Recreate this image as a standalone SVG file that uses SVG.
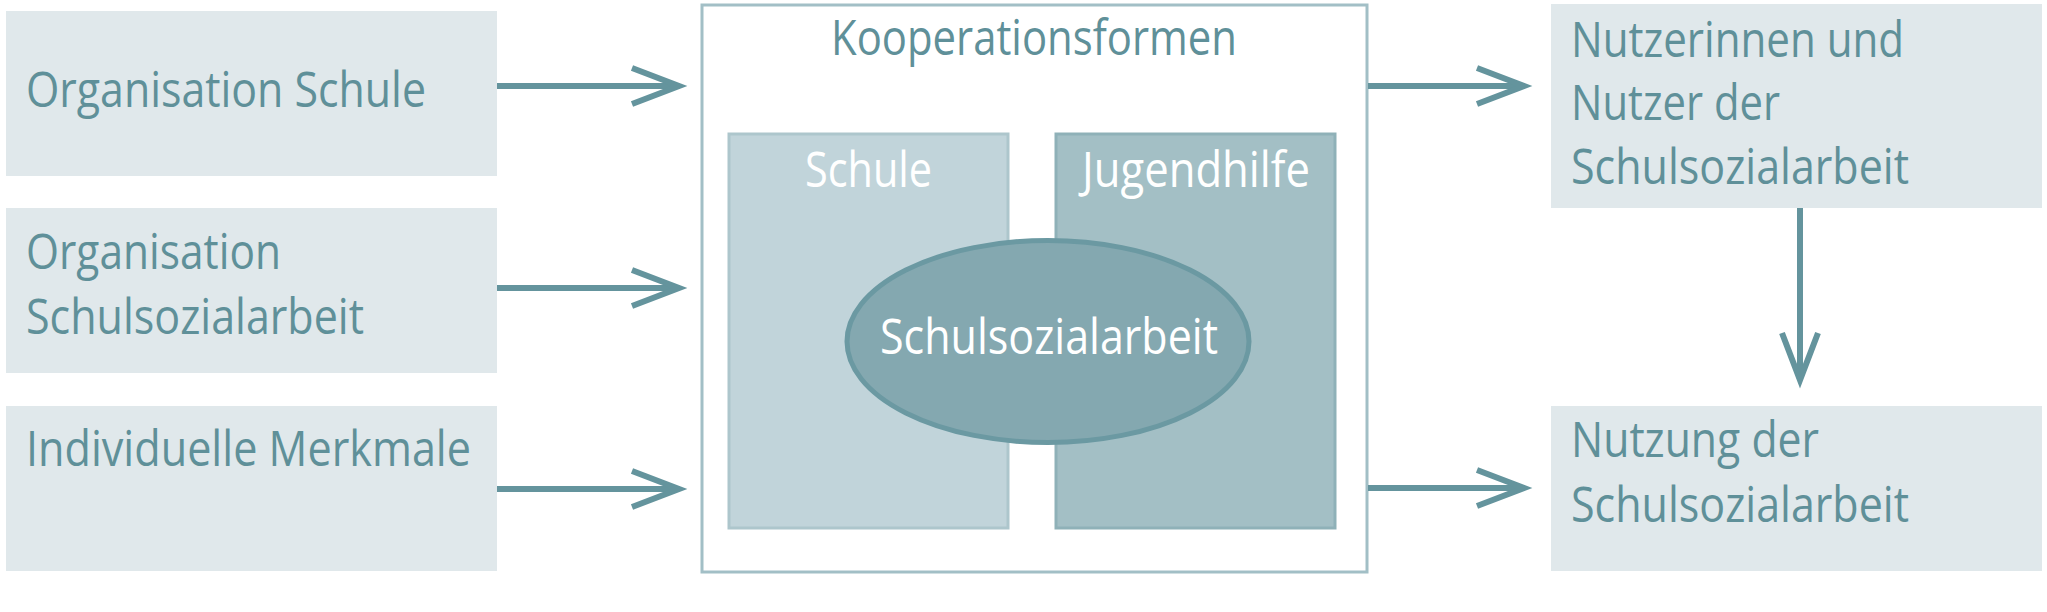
<svg xmlns="http://www.w3.org/2000/svg" width="2047" height="612" viewBox="0 0 2047 612">
<style>
.box{fill:#e0e8eb}
.t{font-family:"Open Sans","Liberation Sans",sans-serif;font-size:50px;fill:#5f9099}
.w{font-family:"Open Sans","Liberation Sans",sans-serif;font-size:50px;fill:#ffffff}
.c{stroke:#64949d;stroke-width:6;fill:none}
</style>
<defs>
<marker id="ah" markerUnits="userSpaceOnUse" markerWidth="80" markerHeight="60" viewBox="-60 -30 80 60" refX="0" refY="0" orient="auto" overflow="visible">
<path d="M-45,-18 L2,0 L-45,18" fill="none" stroke="#64949d" stroke-width="6" stroke-linejoin="miter"/>
</marker>
</defs>
<rect width="2047" height="612" fill="#ffffff"/>
<g id="org-schule">
<rect class="box" x="6" y="11" width="491" height="165"/>
<text class="t" x="26" y="107" textLength="400" lengthAdjust="spacingAndGlyphs">Organisation Schule</text>
</g>
<g id="org-ssa">
<rect class="box" x="6" y="208" width="491" height="165"/>
<text class="t" x="26" y="269" textLength="255" lengthAdjust="spacingAndGlyphs">Organisation</text>
<text class="t" x="26" y="334" textLength="338" lengthAdjust="spacingAndGlyphs">Schulsozialarbeit</text>
</g>
<g id="individuell">
<rect class="box" x="6" y="406" width="491" height="165"/>
<text class="t" x="26" y="466" textLength="445" lengthAdjust="spacingAndGlyphs">Individuelle Merkmale</text>
</g>
<g id="kooperationsformen">
<rect x="702" y="5" width="665" height="567" fill="#ffffff" stroke="#a2bfc6" stroke-width="3"/>
<text class="t" x="831" y="55" textLength="406" lengthAdjust="spacingAndGlyphs">Kooperationsformen</text>
</g>
<g id="schule">
<rect x="729" y="134" width="279" height="394" fill="#c1d4da" stroke="#adc6cc" stroke-width="3"/>
<text class="w" x="805" y="187" textLength="127" lengthAdjust="spacingAndGlyphs">Schule</text>
</g>
<g id="jugendhilfe">
<rect x="1056" y="134" width="279" height="394" fill="#a3bfc5" stroke="#8fb1b8" stroke-width="3"/>
<text class="w" x="1082" y="187" textLength="228" lengthAdjust="spacingAndGlyphs">Jugendhilfe</text>
</g>
<g id="schulsozialarbeit">
<ellipse cx="1048" cy="341.5" rx="201" ry="101" fill="#84a8b0" stroke="#6b99a2" stroke-width="5"/>
<text class="w" x="880" y="354" textLength="338" lengthAdjust="spacingAndGlyphs">Schulsozialarbeit</text>
</g>
<g id="nutzer">
<rect class="box" x="1551" y="4" width="491" height="204"/>
<text class="t" x="1571" y="57" textLength="333" lengthAdjust="spacingAndGlyphs">Nutzerinnen und</text>
<text class="t" x="1571" y="120" textLength="209" lengthAdjust="spacingAndGlyphs">Nutzer der</text>
<text class="t" x="1571" y="184" textLength="338" lengthAdjust="spacingAndGlyphs">Schulsozialarbeit</text>
</g>
<g id="nutzung">
<rect class="box" x="1551" y="406" width="491" height="165"/>
<text class="t" x="1571" y="457" textLength="248" lengthAdjust="spacingAndGlyphs">Nutzung der</text>
<text class="t" x="1571" y="522" textLength="338" lengthAdjust="spacingAndGlyphs">Schulsozialarbeit</text>
</g>
<g id="connectors">
<line class="c" x1="497" y1="86" x2="677" y2="86" marker-end="url(#ah)"/>
<line class="c" x1="497" y1="288" x2="677" y2="288" marker-end="url(#ah)"/>
<line class="c" x1="497" y1="489" x2="677" y2="489" marker-end="url(#ah)"/>
<line class="c" x1="1368" y1="86" x2="1522" y2="86" marker-end="url(#ah)"/>
<line class="c" x1="1368" y1="488" x2="1522" y2="488" marker-end="url(#ah)"/>
<line class="c" x1="1800" y1="208" x2="1800" y2="378" marker-end="url(#ah)"/>
</g>
</svg>
